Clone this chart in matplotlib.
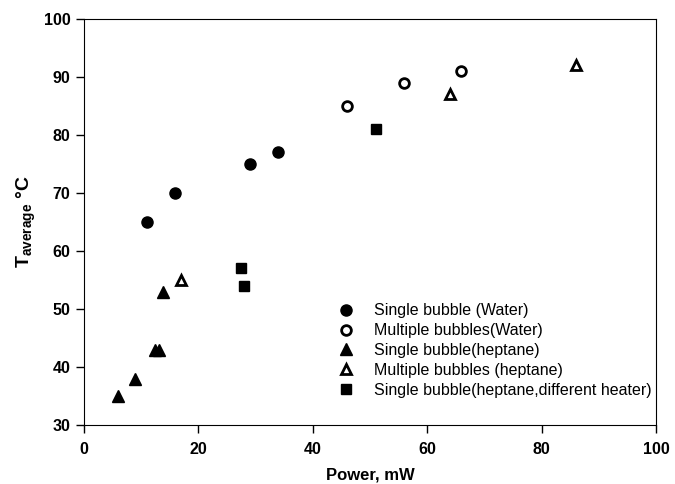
import matplotlib
matplotlib.use('Agg')
import matplotlib.pyplot as plt

plt.rcParams['font.family'] = ['Liberation Sans', 'DejaVu Sans']
plt.rcParams['mathtext.fontset'] = 'custom'
plt.rcParams['mathtext.rm'] = 'Liberation Sans'
plt.rcParams['mathtext.bf'] = 'Liberation Sans:bold'

# data
sw_x = [11, 16, 29, 34]
sw_y = [65, 70, 75, 77]
mw_x = [46, 56, 66]
mw_y = [85, 89, 91]
sh_x = [6, 9, 12.5, 13.2, 13.8]
sh_y = [35, 38, 43, 43, 53]
mh_x = [17, 64, 86]
mh_y = [55, 87, 92]
sd_x = [27.5, 28, 51]
sd_y = [57, 54, 81]

x_ticks = [0, 20, 40, 60, 80, 100]
y_ticks = [30, 40, 50, 60, 70, 80, 90, 100]

fig = plt.figure(figsize=(6.75, 4.84), dpi=100)
ax = fig.add_axes([0.124, 0.122, 0.848, 0.839])

ax.plot(sw_x, sw_y, 'o', color='black', ms=8, label='Single bubble (Water)')
ax.plot(mw_x, mw_y, 'o', mfc='white', mec='black', mew=2, ms=7, label='Multiple bubbles(Water)')
ax.plot(sh_x, sh_y, '^', color='black', ms=8, label='Single bubble(heptane)')
ax.plot(mh_x, mh_y, '^', mfc='white', mec='black', mew=2, ms=7, label='Multiple bubbles (heptane)')
ax.plot(sd_x, sd_y, 's', color='black', ms=7, label='Single bubble(heptane,different heater)')

ax.set_xlim(0, 100)
ax.set_ylim(30, 100)
ax.set_xticks(x_ticks)
ax.set_yticks(y_ticks)
ax.tick_params(direction='out', length=6, width=1, labelsize=11.5)
ax.tick_params(axis='x', pad=6)
for lbl in ax.get_xticklabels() + ax.get_yticklabels():
    lbl.set_fontweight('bold')

ax.set_xlabel('Power, mW', fontsize=12, fontweight='bold', labelpad=8)
ax.set_ylabel(r'$\mathbf{T_{average}}$ °C', fontsize=14, fontweight='bold', labelpad=4)

ax.legend(loc='lower left', bbox_to_anchor=(0.41, 0.04), frameon=False, fontsize=11.5,
          handletextpad=0.8, labelspacing=0.3, borderaxespad=0.3)

plt.savefig('out.png', dpi=100)
